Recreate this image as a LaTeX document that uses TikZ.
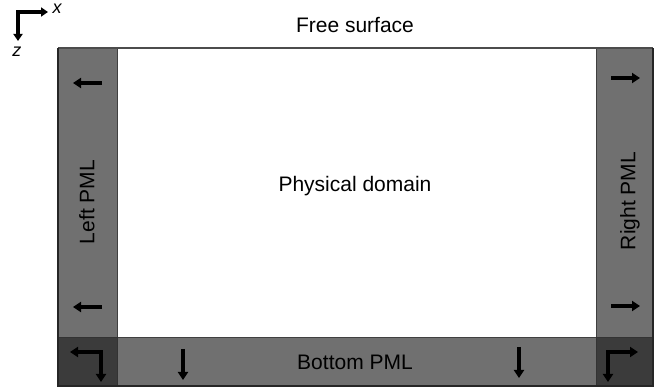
\documentclass[tikz,border=0pt]{standalone}
\usepackage{fontspec}
\setmainfont{Liberation Sans}
\usetikzlibrary{arrows.meta}

\tikzset{
  pml/.style={fill=black!56,draw=black!75,line width=0.8pt},
  corner/.style={fill=black!77,draw=black!80,line width=0.8pt},
  lbl/.style={font=\fontsize{21}{24}\selectfont,inner sep=0pt},
  dirarrow/.style={line width=3.6pt,-{Triangle[length=8pt,width=10pt]}},
  cornerarrow/.style={line width=3.6pt,{Triangle[length=8pt,width=10pt]}-{Triangle[length=8pt,width=10pt]}},
}

\begin{document}
\begin{tikzpicture}[x=1pt,y=-1pt]
  \useasboundingbox (0,0) rectangle (657,387);

  % regions
  \path[pml] (58,48) rectangle (117,337);
  \path[pml] (596,48) rectangle (653,337);
  \path[pml] (117,337) rectangle (596,386);
  \path[corner] (58,337) rectangle (117,386);
  \path[corner] (596,337) rectangle (653,386);
  \draw[black!70,line width=1.6pt] (58,48) -- (653,48);
  \draw[black!85,line width=1.6pt] (58,48) -- (58,386) -- (653,386) -- (653,48);

  % labels
  \node[lbl] (free) at (355,25) {Free surface};
  \node[lbl] (phys) at (355,186) {Physical domain};
  \node[lbl] (bot) at (355,362) {Bottom PML};
  \node[lbl,rotate=90] (left) at (87,202) {Left PML};
  \node[lbl,rotate=90] (right) at (630,201) {Right PML};

  % axes
  \coordinate (o) at (18,12);
  \coordinate (ox) at (48,12);
  \coordinate (oz) at (18,41);
  \draw[line width=3.6pt,-{Triangle[length=7pt,width=9pt]}] ([xshift=-1.8pt]o) -- (ox);
  \draw[line width=3.6pt,-{Triangle[length=7pt,width=9pt]}] (o) -- (oz);
  \node[font=\fontsize{18}{20}\selectfont\itshape,inner sep=0pt] (xl) at (57,9) {x};
  \node[font=\fontsize{18}{20}\selectfont\itshape,inner sep=0pt] (zl) at (17,52) {z};

  % damping directions
  \coordinate (l1a) at (102,83);  \coordinate (l1b) at (73,83);
  \coordinate (l2a) at (102,307); \coordinate (l2b) at (73,307);
  \coordinate (r1a) at (611,78);  \coordinate (r1b) at (640,78);
  \coordinate (r2a) at (611,306); \coordinate (r2b) at (640,306);
  \coordinate (b1a) at (183,349); \coordinate (b1b) at (183,380);
  \coordinate (b2a) at (519,347); \coordinate (b2b) at (519,378);
  \foreach \a/\b in {l1a/l1b,l2a/l2b,r1a/r1b,r2a/r2b,b1a/b1b,b2a/b2b}
    \draw[dirarrow] (\a) -- (\b);

  \coordinate (cl1) at (70,352);  \coordinate (cl2) at (101,382);
  \coordinate (cr1) at (608,382); \coordinate (cr2) at (638,352);
  \draw[cornerarrow] (cl1) -| (cl2);
  \draw[cornerarrow] (cr1) |- (cr2);
\end{tikzpicture}
\end{document}
